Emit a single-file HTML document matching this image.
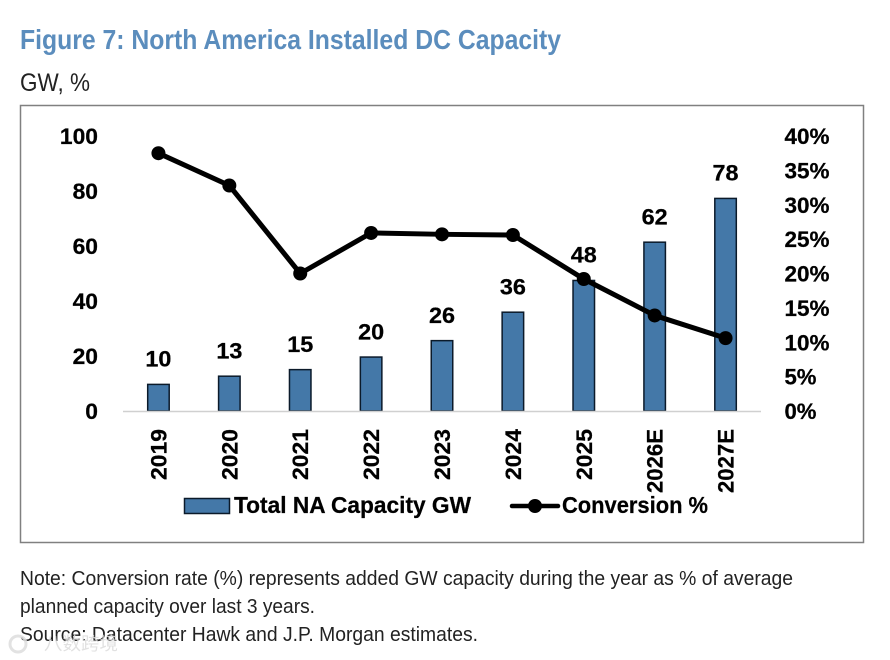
<!DOCTYPE html>
<html>
<head>
<meta charset="utf-8">
<style>
html,body{margin:0;padding:0;background:#fff;}
svg{display:block;}
text{font-family:"Liberation Sans","Noto Sans CJK SC",sans-serif;}
.b{font-weight:700;fill:#000;stroke:#000;stroke-width:0.25;}
.n{fill:#222;font-size:20.5px;}
</style>
</head>
<body>
<svg id="chart" width="890" height="660" viewBox="0 0 890 660" xmlns="http://www.w3.org/2000/svg">
<text x="20" y="49" font-size="28" font-weight="700" fill="#5b8dbd" textLength="541" lengthAdjust="spacingAndGlyphs">Figure 7: North America Installed DC Capacity</text>
<text x="20" y="91" font-size="25" fill="#222" textLength="70" lengthAdjust="spacingAndGlyphs">GW, %</text>
<rect x="20.5" y="105.5" width="843" height="437" fill="#fff" stroke="#808080" stroke-width="1.5"/>
<g id="plot"></g>
<g>
<g>
<rect x="184.5" y="498.5" width="45" height="15" fill="#4478a8" stroke="#0b1a2a" stroke-width="1.5"/>
<text class="b" x="234" y="513" font-size="23" textLength="237" lengthAdjust="spacingAndGlyphs">Total NA Capacity GW</text>
</g>
<g>
<line x1="512" y1="506" x2="558" y2="506" stroke="#000" stroke-width="4.5" stroke-linecap="round"/>
<circle cx="535" cy="506" r="7" fill="#000"/>
<text class="b" x="562" y="513" font-size="23" textLength="146" lengthAdjust="spacingAndGlyphs">Conversion %</text>
</g>
</g>
<g>
<text class="n" x="20" y="585" textLength="773" lengthAdjust="spacingAndGlyphs">Note: Conversion rate (%) represents added GW capacity during the year as % of average</text>
<text class="n" x="20" y="613" textLength="295" lengthAdjust="spacingAndGlyphs">planned capacity over last 3 years.</text>
<text class="n" x="20" y="641" textLength="458" lengthAdjust="spacingAndGlyphs">Source: Datacenter Hawk and J.P. Morgan estimates.</text>
</g>
<g opacity="0.85">
<circle cx="18" cy="644" r="8" fill="none" stroke="#dedede" stroke-width="3"/>
<text x="44" y="650" font-size="18" fill="#dcdcdc" textLength="74" lengthAdjust="spacingAndGlyphs">八数跨境</text>
</g>
</svg>
<script>
const categories = ['2019','2020','2021','2022','2023','2024','2025','2026E','2027E'];
const capacityValues = [10,13,15.4,20,26,36.4,48,62,78];
const conversionValues = [37.5,32.8,20.0,25.9,25.7,25.6,19.2,13.9,10.6];
const leftTicks = [0,20,40,60,80,100];
const rightTicks = [0,5,10,15,20,25,30,35,40];

const NS = 'http://www.w3.org/2000/svg';
const plot = document.getElementById('plot');
const plotLeft = 123, plotRight = 761, plotBottom = 411, plotTop = 136;
const xAxis = i => plotLeft + (plotRight - plotLeft) * (i + 0.5) / categories.length;
const yBar = v => plotBottom - 273.5 * v / 100;
const yLeft = v => plotBottom - (plotBottom - plotTop) * v / 100;
const yRight = v => plotBottom - (plotBottom - plotTop) * v / 40;

function make(tag, attrs, txt) {
  const el = document.createElementNS(NS, tag);
  for (const k in attrs) el.setAttribute(k, attrs[k]);
  if (txt !== undefined) el.textContent = txt;
  plot.appendChild(el);
  return el;
}

capacityValues.forEach((v, i) => {
  const r = make('rect', {x: xAxis(i) - 10.75, y: yBar(v) + 0.75, width: 21.5, height: plotBottom - yBar(v) - 0.75, fill: '#4478a8', stroke: '#0b1a2a', 'stroke-width': 1.5});
  
  
  const s = String(Math.round(v));
  const t = make('text', {x: xAxis(i), y: yBar(v) - 17, 'text-anchor': 'middle', 'font-size': 22.5, 'class': 'b', textLength: s.length * 13, lengthAdjust: 'spacingAndGlyphs'}, s);
  
  
});

const axisLine = make('line', {x1: plotLeft, y1: plotBottom + 0.5, x2: plotRight, y2: plotBottom + 0.5, stroke: '#d0d0d0', 'stroke-width': 1.5});



leftTicks.forEach(v => {
  const t = make('text', {x: 98, y: yLeft(v) + 8, 'text-anchor': 'end', 'font-size': 22.5, 'class': 'b', textLength: String(v).length * 12.7, lengthAdjust: 'spacingAndGlyphs'}, String(v));
  
  
});

rightTicks.forEach(v => {
  const t = make('text', {x: 784.5, y: yRight(v) + 8, 'font-size': 22.5, 'class': 'b', textLength: String(v).length * 13 + 19, lengthAdjust: 'spacingAndGlyphs'}, v + '%');
  
  
});

categories.forEach((c, i) => {
  const len = c.length > 4 ? 64 : 51;
  const px = xAxis(i) + 8;
  const py = 429 + len;
  const t = make('text', {x: px, y: py, transform: 'rotate(-90 ' + px + ' ' + py + ')', 'font-size': 22.5, 'class': 'b', textLength: len, lengthAdjust: 'spacingAndGlyphs'}, c);
  
  
});

const linePts = conversionValues.map((v, i) => xAxis(i) + ',' + yRight(v)).join(' ');
const polyline = make('polyline', {points: linePts, fill: 'none', stroke: '#000', 'stroke-width': 5, 'stroke-linejoin': 'round'});



conversionValues.forEach((v, i) => {
  const c = make('circle', {cx: xAxis(i), cy: yRight(v), r: 7, fill: '#000'});
  
  
});
</script>
</body>
</html>
